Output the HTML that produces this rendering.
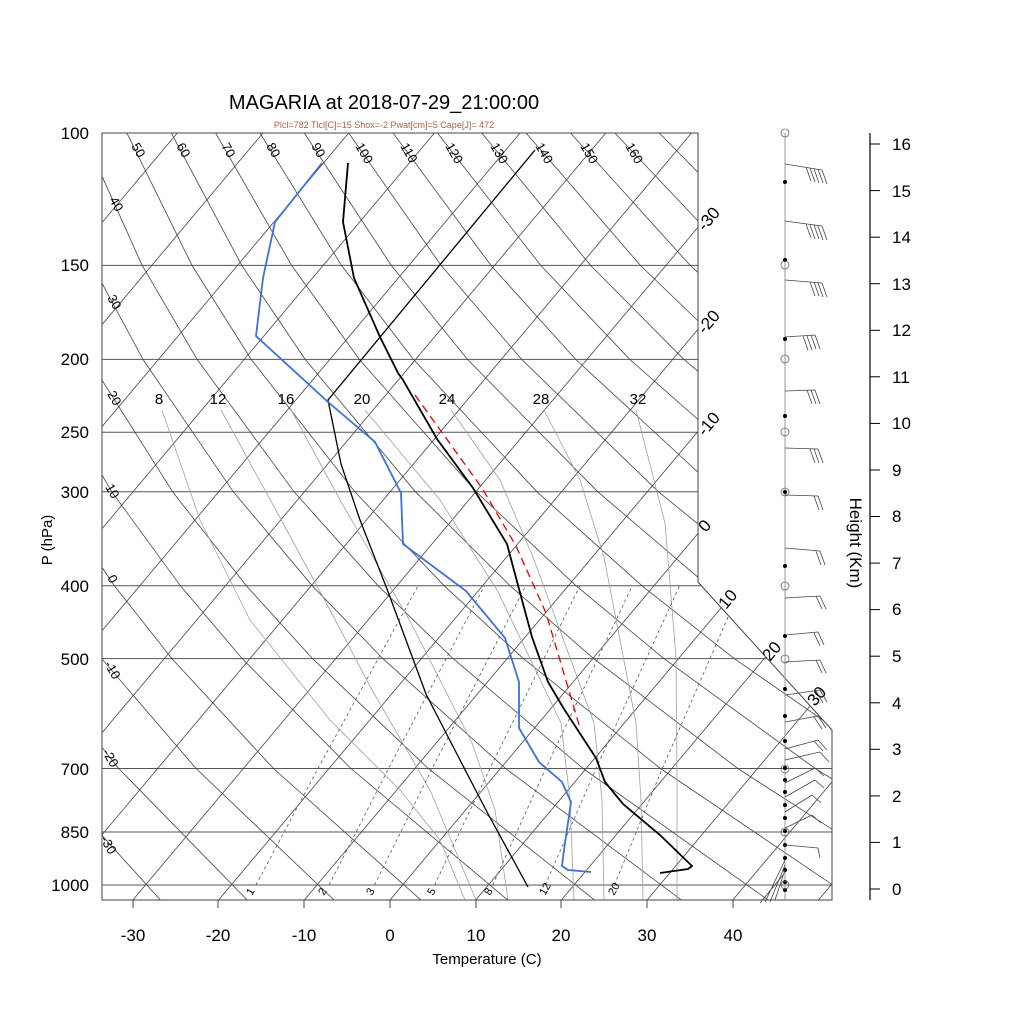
<!DOCTYPE html>
<html><head><meta charset="utf-8"><style>
html,body{margin:0;padding:0;background:#fff;}
svg{display:block;font-family:"Liberation Sans",sans-serif;}
</style></head><body>
<svg width="1024" height="1024" viewBox="0 0 1024 1024" xmlns="http://www.w3.org/2000/svg">
<defs><clipPath id="cp"><polygon points="102,133 698,133 698,582 832,730 832,900 102,900"/></clipPath></defs>
<g clip-path="url(#cp)" fill="none">
<!-- pressure lines -->
<g stroke="#555" stroke-width="1">
<line x1="102" y1="133" x2="832" y2="133"/><line x1="102" y1="265.4" x2="832" y2="265.4"/><line x1="102" y1="359.4" x2="832" y2="359.4"/><line x1="102" y1="432.3" x2="832" y2="432.3"/><line x1="102" y1="491.8" x2="832" y2="491.8"/><line x1="102" y1="585.8" x2="832" y2="585.8"/><line x1="102" y1="658.6" x2="832" y2="658.6"/><line x1="102" y1="768.5" x2="832" y2="768.5"/><line x1="102" y1="832" x2="832" y2="832"/><line x1="102" y1="885" x2="832" y2="885"/>
</g>
<!-- isotherms -->
<g stroke="#444" stroke-width="0.8">
<line x1="-467" y1="900" x2="177.3" y2="133"/><line x1="-381.3" y1="900" x2="263" y2="133"/><line x1="-295.6" y1="900" x2="348.7" y2="133"/><line x1="-209.9" y1="900" x2="434.4" y2="133"/><line x1="-124.2" y1="900" x2="520.1" y2="133"/><line x1="-38.5" y1="900" x2="605.8" y2="133"/><line x1="47.2" y1="900" x2="691.5" y2="133"/><line x1="132.9" y1="900" x2="777.2" y2="133"/><line x1="218.6" y1="900" x2="862.9" y2="133"/><line x1="304.3" y1="900" x2="948.6" y2="133"/><line x1="390" y1="900" x2="1034.3" y2="133"/><line x1="475.7" y1="900" x2="1120" y2="133"/><line x1="561.4" y1="900" x2="1205.7" y2="133"/><line x1="647.1" y1="900" x2="1291.4" y2="133"/><line x1="732.8" y1="900" x2="1377.1" y2="133"/><line x1="818.5" y1="900" x2="1462.8" y2="133"/>
</g>
<!-- dry adiabats (points at 1050,700,500,400,300,200,150,100 hPa) -->
<g stroke="#444" stroke-width="0.8">
<polyline points="161.3,901 41.3,768.5 -39,658.6"/>
<polyline points="248.2,901 118.7,768.5 31.3,658.6 -17.5,585.8"/>
<polyline points="335.1,901 196.1,768.5 101.6,658.6 48.5,585.8 -9.6,491.8"/>
<polyline points="422,901 273.5,768.5 171.9,658.6 114.4,585.8 51.1,491.8 -19.3,359.4"/>
<polyline points="508.9,901 350.9,768.5 242.2,658.6 180.4,585.8 111.8,491.8 34.8,359.4 -7.3,265.4"/>
<polyline points="595.8,901 428.3,768.5 312.5,658.6 246.3,585.8 172.6,491.8 88.9,359.4 42.5,265.4 -6.2,133"/>
<polyline points="682.7,901 505.7,768.5 382.8,658.6 312.3,585.8 233.3,491.8 143,359.4 92.4,265.4 38.2,133"/>
<polyline points="769.6,901 583.1,768.5 453.1,658.6 378.2,585.8 294.1,491.8 197.1,359.4 142.2,265.4 82.5,133"/>
<polyline points="856.5,901 660.5,768.5 523.4,658.6 444.2,585.8 354.8,491.8 251.2,359.4 192,265.4 126.9,133"/>
<polyline points="943.4,901 737.8,768.5 593.6,658.6 510.1,585.8 415.5,491.8 305.2,359.4 241.8,265.4 171.3,133"/>
<polyline points="1030.3,901 815.2,768.5 663.9,658.6 576.1,585.8 476.3,491.8 359.3,359.4 291.6,265.4 215.6,133"/>
<polyline points="1117.2,901 892.6,768.5 734.2,658.6 642,585.8 537,491.8 413.4,359.4 341.5,265.4 260,133"/>
<polyline points="1204.1,901 970,768.5 804.5,658.6 708,585.8 597.8,491.8 467.5,359.4 391.3,265.4 304.3,133"/>
<polyline points="1291,901 1047.4,768.5 874.8,658.6 773.9,585.8 658.5,491.8 521.6,359.4 441.1,265.4 348.7,133"/>
<polyline points="1377.9,901 1124.8,768.5 945.1,658.6 839.9,585.8 719.2,491.8 575.7,359.4 490.9,265.4 393.1,133"/>
<polyline points="1464.8,901 1202.2,768.5 1015.4,658.6 905.8,585.8 780,491.8 629.8,359.4 540.7,265.4 437.4,133"/>
<polyline points="1551.7,901 1279.6,768.5 1085.7,658.6 971.8,585.8 840.7,491.8 683.9,359.4 590.6,265.4 481.8,133"/>
<polyline points="1638.6,901 1357,768.5 1155.9,658.6 1037.7,585.8 901.5,491.8 738,359.4 640.4,265.4 526.1,133"/>
<polyline points="1725.5,901 1434.4,768.5 1226.2,658.6 1103.7,585.8 962.2,491.8 792,359.4 690.2,265.4 570.5,133"/>
<polyline points="1812.4,901 1511.7,768.5 1296.5,658.6 1169.6,585.8 1022.9,491.8 846.1,359.4 740,265.4 614.9,133"/>
<polyline points="1899.3,901 1589.1,768.5 1366.8,658.6 1235.6,585.8 1083.7,491.8 900.2,359.4 789.8,265.4 659.2,133"/>
</g>
<!-- moist adiabats -->
<g stroke="#a0a0a0" stroke-width="0.8">
<polyline points="162,410 200,520 250,620 330,720 400,790 440,840 465,900"/>
<polyline points="221,410 283,523 330,610 372,690 430,790 476,900"/>
<polyline points="290,408 340,500 411,623 472,743 495,810 508,900"/>
<polyline points="365,410 440,500 497,590 561,723 570,800 574,900"/>
<polyline points="451,410 500,480 533,557 594,723 602,800 604,900"/>
<polyline points="544,410 580,480 604,557 636,723 641,800 643,900"/>
<polyline points="636,410 665,523 676,657 677,780 677,900"/>
</g>
<!-- mixing ratio -->
<g stroke="#555" stroke-width="0.8" stroke-dasharray="3,3">
<polyline points="255.9,885 318,768.5 418,585.8"/>
<polyline points="329.1,885 388.5,768.5 484.4,585.8"/>
<polyline points="374.5,885 432.2,768.5 525.6,585.8"/>
<polyline points="434.6,885 489.9,768.5 579.9,585.8"/>
<polyline points="492.7,885 545.7,768.5 632.3,585.8"/>
<polyline points="545.3,885 596.1,768.5 679.6,585.8"/>
<polyline points="614.5,885 662.3,768.5 741.6,585.8"/>
</g>
</g>
<polygon points="102,133 698,133 698,582 832,730 832,900 102,900" fill="none" stroke="#444" stroke-width="1"/>
<!-- profiles -->
<g fill="none">
<polyline points="535,150 328,400 341,464 360,520 387,589 426,694 460,760 487,812 528,887" stroke="#000" stroke-width="1.3"/>
<polyline points="415,395 482,488 516,546 546,613 580,728" stroke="#e00" stroke-width="1.3" stroke-dasharray="8,5"/>
<polyline points="322,163 275,222 263,278 256,336 328,402 375,442 401,493 403,544 466,591 505,638 519,682 519,728 539,762 562,782 571,802 564,850 562,866 568,870 591,872" stroke="#3f6fe0" stroke-width="1.8"/>
<polyline points="348,163 343,222 354,278 380,337 398,373 403,380 437,439 473,488 507,544 519,589 532,637 548,682 564,709 596,758 605,782 623,804 660,835 692,866 688,869 660,873" stroke="#000" stroke-width="1.8"/>
</g>
<!-- title -->
<text x="384" y="109" font-size="20" text-anchor="middle">MAGARIA at 2018-07-29_21:00:00</text>
<text x="384" y="128" font-size="9" fill="#b0603a" text-anchor="middle">Plcl=782 Tlcl[C]=15 Shox=-2 Pwat[cm]=5 Cape[J]= 472</text>
<g font-size="17" text-anchor="end">
<text x="89" y="139">100</text><text x="89" y="271">150</text><text x="89" y="365">200</text>
<text x="89" y="438">250</text><text x="89" y="498">300</text><text x="89" y="592">400</text>
<text x="89" y="665">500</text><text x="89" y="775">700</text><text x="89" y="838">850</text>
<text x="89" y="891">1000</text>
</g>
<text transform="translate(52,540) rotate(-90)" font-size="15" text-anchor="middle">P (hPa)</text>
<g font-size="17" text-anchor="middle">
<text x="133" y="941">-30</text><text x="218" y="941">-20</text><text x="304" y="941">-10</text>
<text x="390" y="941">0</text><text x="476" y="941">10</text><text x="561" y="941">20</text>
<text x="647" y="941">30</text><text x="733" y="941">40</text>
</g>
<g stroke="#444" stroke-width="1">
<line x1="133" y1="900" x2="133" y2="908"/><line x1="218" y1="900" x2="218" y2="908"/><line x1="304" y1="900" x2="304" y2="908"/><line x1="390" y1="900" x2="390" y2="908"/><line x1="476" y1="900" x2="476" y2="908"/><line x1="561" y1="900" x2="561" y2="908"/><line x1="647" y1="900" x2="647" y2="908"/><line x1="733" y1="900" x2="733" y2="908"/>
</g>
<text x="487" y="964" font-size="15" text-anchor="middle">Temperature (C)</text>
<g font-size="13">
<text transform="translate(131,146) rotate(60)">50</text>
<text transform="translate(176,146) rotate(60)">60</text>
<text transform="translate(221,146) rotate(60)">70</text>
<text transform="translate(266,146) rotate(60)">80</text>
<text transform="translate(311,146) rotate(60)">90</text>
<text transform="translate(355,146) rotate(60)">100</text>
<text transform="translate(400,146) rotate(60)">110</text>
<text transform="translate(445,146) rotate(60)">120</text>
<text transform="translate(490,146) rotate(60)">130</text>
<text transform="translate(535,146) rotate(60)">140</text>
<text transform="translate(580,146) rotate(60)">150</text>
<text transform="translate(625,146) rotate(60)">160</text>
<text transform="translate(109,200) rotate(60)">40</text>
<text transform="translate(107,298) rotate(60)">30</text>
<text transform="translate(107,394) rotate(60)">20</text>
<text transform="translate(105,487) rotate(60)">10</text>
<text transform="translate(107,578) rotate(60)">0</text>
<text transform="translate(104,664) rotate(60)">-10</text>
<text transform="translate(102,752) rotate(60)">-20</text>
<text transform="translate(100,839) rotate(60)">-30</text>
</g>
<g font-size="17">
<text transform="translate(705,232) rotate(-50)">-30</text>
<text transform="translate(705,335) rotate(-50)">-20</text>
<text transform="translate(705,437) rotate(-50)">-10</text>
<text transform="translate(706,533) rotate(-50)">0</text>
<text transform="translate(726,610) rotate(-50)">10</text>
<text transform="translate(770,662) rotate(-50)">20</text>
<text transform="translate(815,707) rotate(-50)">30</text>
</g>
<g font-size="15" text-anchor="middle">
<text x="159" y="404">8</text><text x="218" y="404">12</text><text x="286" y="404">16</text>
<text x="362" y="404">20</text><text x="447" y="404">24</text><text x="541" y="404">28</text><text x="638" y="404">32</text>
</g>
<g font-size="11">
<text transform="translate(252,896) rotate(-60)">1</text>
<text transform="translate(324,896) rotate(-60)">2</text>
<text transform="translate(372,896) rotate(-60)">3</text>
<text transform="translate(433,896) rotate(-60)">5</text>
<text transform="translate(490,896) rotate(-60)">8</text>
<text transform="translate(545,896) rotate(-60)">12</text>
<text transform="translate(614,896) rotate(-60)">20</text>
</g>
<!-- wind column -->
<line x1="785" y1="133" x2="785" y2="900" stroke="#999" stroke-width="1"/>
<g fill="#000">
<circle cx="785" cy="182" r="2"/><circle cx="785" cy="260" r="2"/><circle cx="785" cy="339" r="2"/><circle cx="785" cy="416" r="2"/><circle cx="785" cy="492" r="2"/><circle cx="785" cy="566" r="2"/><circle cx="785" cy="636" r="2"/><circle cx="785" cy="689" r="2"/><circle cx="785" cy="716" r="2"/><circle cx="785" cy="741" r="2"/><circle cx="785" cy="768" r="2"/><circle cx="785" cy="780" r="2"/><circle cx="785" cy="792" r="2"/><circle cx="785" cy="805" r="2"/><circle cx="785" cy="818" r="2"/><circle cx="785" cy="831" r="2"/><circle cx="785" cy="845" r="2"/><circle cx="785" cy="858" r="2"/><circle cx="785" cy="870" r="2"/><circle cx="785" cy="882" r="2"/><circle cx="785" cy="890" r="2"/>
</g>
<g fill="none" stroke="#666" stroke-width="0.8">
<circle cx="785" cy="133" r="4"/><circle cx="785" cy="265" r="4"/><circle cx="785" cy="359" r="4"/><circle cx="785" cy="432" r="4"/><circle cx="785" cy="492" r="4"/><circle cx="785" cy="586" r="4"/><circle cx="785" cy="659" r="4"/><circle cx="785" cy="769" r="4"/><circle cx="785" cy="832" r="4"/><circle cx="785" cy="885" r="4"/>
</g>
<g stroke="#444" stroke-width="0.8" fill="none">
<path d="M785,164 L822,170 M822,170 l5,14 M818,169 l5,14 M814,169 l5,14 M810,168 l5,14 M806,167 l5,14"/>
<path d="M785,221 L822,226 M822,226 l5,14 M818,226 l5,14 M814,225 l5,14 M810,225 l5,14 M806,224 l5,14"/>
<path d="M785,280 L822,283 M822,283 l5,14 M818,283 l5,14 M814,282 l5,14 M810,282 l5,14"/>
<path d="M785,337 L815,335 M815,335 l5,14 M811,335 l5,14 M807,336 l5,14 M803,336 l5,14"/>
<path d="M785,391 L815,390 M815,390 l5,14 M811,390 l5,14 M807,390 l5,14"/>
<path d="M785,448 L818,449 M818,449 l5,14 M814,449 l5,14 M810,449 l5,14"/>
<path d="M785,495 L818,496 M818,496 l5,14 M814,496 l5,14"/>
<path d="M785,548 L820,551 M820,551 l5,14 M816,551 l5,14"/>
<path d="M785,598 L820,596 M820,596 l6,13 M816,596 l6,13"/>
<path d="M785,635 L818,632 M818,632 l6,13 M814,633 l6,13"/>
<path d="M785,662 L820,660 M820,660 l6,13 M816,660 l6,13"/>
<path d="M785,695 L820,690 M820,690 l7,12 M816,691 l7,12"/>
<path d="M785,722 L818,716 M818,716 l8,12 M814,717 l8,12"/>
<path d="M785,749 L818,740 M818,740 l9,10 M814,741 l9,10"/>
<path d="M785,760 L820,752 M820,752 l9,10"/>
<path d="M785,783 L815,768 M815,768 l9,8"/>
<path d="M785,797 L815,780 M815,780 l9,8"/>
<path d="M785,812 L812,795 M812,795 l9,8"/>
<path d="M785,828 L812,815 M812,815 l9,8"/>
<path d="M785,845 L818,848 M818,848 l2,10"/>
<path d="M785,860 L765,902 M785,865 L770,902 M785,870 L775,900 M783,875 L760,903"/>
</g>
<!-- height axis -->
<line x1="870" y1="133" x2="870" y2="900" stroke="#000" stroke-width="1.2"/>
<g stroke="#000" stroke-width="1">
<line x1="870" y1="889" x2="880" y2="889"/><line x1="870" y1="842.4" x2="880" y2="842.4"/><line x1="870" y1="795.9" x2="880" y2="795.9"/><line x1="870" y1="749.3" x2="880" y2="749.3"/><line x1="870" y1="702.8" x2="880" y2="702.8"/><line x1="870" y1="656.2" x2="880" y2="656.2"/><line x1="870" y1="609.6" x2="880" y2="609.6"/><line x1="870" y1="563.1" x2="880" y2="563.1"/><line x1="870" y1="516.5" x2="880" y2="516.5"/><line x1="870" y1="470" x2="880" y2="470"/><line x1="870" y1="423.4" x2="880" y2="423.4"/><line x1="870" y1="376.8" x2="880" y2="376.8"/><line x1="870" y1="330.3" x2="880" y2="330.3"/><line x1="870" y1="283.7" x2="880" y2="283.7"/><line x1="870" y1="237.2" x2="880" y2="237.2"/><line x1="870" y1="190.6" x2="880" y2="190.6"/><line x1="870" y1="144" x2="880" y2="144"/>
</g>
<g font-size="17">
<text x="892" y="895">0</text><text x="892" y="848">1</text><text x="892" y="802">2</text>
<text x="892" y="755">3</text><text x="892" y="709">4</text><text x="892" y="662">5</text>
<text x="892" y="615">6</text><text x="892" y="569">7</text><text x="892" y="522">8</text>
<text x="892" y="476">9</text><text x="892" y="429">10</text><text x="892" y="383">11</text>
<text x="892" y="336">12</text><text x="892" y="290">13</text><text x="892" y="243">14</text>
<text x="892" y="197">15</text><text x="892" y="150">16</text>
</g>
<text transform="translate(850,543) rotate(90)" font-size="17" text-anchor="middle">Height (Km)</text>
</svg>
</body></html>
